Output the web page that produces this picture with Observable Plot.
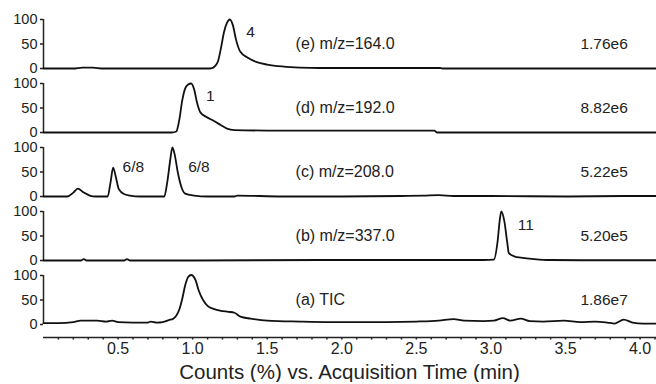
<!DOCTYPE html>
<html>
<head>
<meta charset="utf-8">
<script src="https://cdn.jsdelivr.net/npm/d3@7"></script>
<script src="https://cdn.jsdelivr.net/npm/@observablehq/plot@0.6"></script>
<style>
  body { margin: 0; background: #fff; }
  #title { font-family: "Liberation Sans", Arial, sans-serif; font-size: 20.5px; color: #222;
           padding-left: 43px; width: 613px; text-align: center; line-height: 20px; }
</style>
</head>
<body>
<div id="chart"></div>
<div id="title">Counts (%) vs. Acquisition Time (min)</div>
<script>
// ---- data ----
const panelKeys = ["e", "d", "c", "b", "a"];
const panelTitles = ["(e) m/z=164.0", "(d) m/z=192.0", "(c) m/z=208.0", "(b) m/z=337.0", "(a) TIC"];
const panelScales = ["1.76e6", "8.82e6", "5.22e5", "5.20e5", "1.86e7"];

const timeE = [0, 0.2, 0.26, 0.33, 0.4, 0.6, 0.85, 1.1, 1.13, 1.15, 1.17, 1.19, 1.21, 1.23, 1.25, 1.27, 1.29, 1.32, 1.37, 1.43, 1.50, 1.61, 1.72, 1.85, 2.1, 2.4, 2.66, 2.68, 3.0, 3.5, 4.11];
const valueE = [0, 0, 2, 2, 0, 0, 0, 0, 1, 5, 15, 42, 74, 93, 100, 88, 60, 34, 22, 13, 8, 4, 2, 1, 1, 1, 1, 0, 0, 0, 0];

const timeD = [0, 0.2, 0.4, 0.7, 0.86, 0.89, 0.91, 0.93, 0.95, 0.97, 0.99, 1.01, 1.03, 1.05, 1.09, 1.14, 1.19, 1.23, 1.28, 1.5, 2.0, 2.4, 2.62, 2.64, 3.0, 3.5, 4.11];
const valueD = [0, 0, 0, 0, 0, 2, 25, 65, 90, 98, 100, 88, 60, 42, 32, 24, 15, 8, 5, 4, 4, 4, 4, 0, 0, 0, 0];

const timeC = [0, 0.1, 0.16, 0.2, 0.23, 0.27, 0.31, 0.35, 0.43, 0.45, 0.467, 0.485, 0.505, 0.54, 0.58, 0.65, 0.81, 0.83, 0.85, 0.864, 0.88, 0.90, 0.924, 0.95, 1.01, 1.1, 1.28, 1.3, 1.6, 2.0, 2.4, 2.55, 2.65, 2.75, 3.0, 3.5, 3.9, 4.11];
const valueC = [0, 0, 0, 8, 16, 8, 2, 0, 0, 30, 59, 40, 15, 5, 2, 0, 0, 30, 75, 100, 85, 50, 20, 6, 2, 0, 0, 2, 0, 0, 1, 2, 3, 1, 1, 0, 1, 1];

const timeB = [0, 0.25, 0.27, 0.29, 0.54, 0.56, 0.58, 1.0, 1.85, 2.5, 2.95, 3.02, 3.045, 3.06, 3.07, 3.09, 3.11, 3.12, 3.16, 3.2, 3.29, 3.4, 3.7, 4.11];
const valueB = [0, 0, 3, 0, 0, 3, 0, 0, 1, 1, 1, 2, 40, 85, 100, 80, 35, 15, 8, 6, 3, 1, 0.5, 0.5];

const timeA = [0, 0.1, 0.2, 0.25, 0.3, 0.36, 0.42, 0.46, 0.5, 0.6, 0.7, 0.72, 0.76, 0.8, 0.84, 0.87, 0.89, 0.91, 0.93, 0.95, 0.97, 0.99, 1.02, 1.04, 1.07, 1.10, 1.14, 1.19, 1.24, 1.28, 1.32, 1.39, 1.50, 1.72, 1.93, 2.1, 2.3, 2.5, 2.65, 2.75, 2.82, 2.95, 3.02, 3.08, 3.13, 3.2, 3.26, 3.35, 3.49, 3.6, 3.7, 3.78, 3.83, 3.89, 3.95, 4.02, 4.11];
const valueA = [3, 3, 5, 8, 8, 8, 6, 8, 5, 4, 4, 6, 4, 5, 9, 12, 18, 30, 52, 80, 97, 101, 90, 70, 50, 38, 32, 28, 26, 24, 16, 12, 8, 6, 5, 5, 5, 6, 8, 11, 8, 7, 8, 13, 8, 12, 7, 6, 8, 5, 6, 4, 2, 10, 4, 2, 2];

const peakPanels = ["e", "d", "c", "c", "b"];
const peakTimes = [1.36, 1.09, 0.53, 0.97, 3.18];
const peakLevels = [75, 75, 61, 61, 73];
const peakTexts = ["4", "1", "6/8", "6/8", "11"];

const majorTicks = [0.5, 1.0, 1.5, 2.0, 2.5, 3.0, 3.5, 4.0];
const minorTicks = d3.range(1, 42).map(i => i / 10);
const yTicks = [0, 50, 100];

// ---- build table ----
const traces = {e: [timeE, valueE], d: [timeD, valueD], c: [timeC, valueC], b: [timeB, valueB], a: [timeA, valueA]};
const rows = [];
for (const k of panelKeys) {
  const [ts, vs] = traces[k];
  ts.forEach((t, i) => rows.push({panel: k, t, v: vs[i]}));
}
const panels = panelKeys.map((k, i) => ({panel: k, title: panelTitles[i], scale: panelScales[i]}));
const peaks = peakPanels.map((p, i) => ({panel: p, t: peakTimes[i], v: peakLevels[i], text: peakTexts[i]}));

const yMin = -26.5;
const titleTime = 1.69, scaleTime = 3.60, titleLevel = 50;

const chart = Plot.plot({
  width: 656, height: 362,
  marginLeft: 43, marginRight: 0, marginTop: 19, marginBottom: 25,
  x: {domain: [0, 4.11]},
  y: {domain: [yMin, 100]},
  fy: {domain: panelKeys, paddingInner: 2 / 64, paddingOuter: 0, axis: null},
  style: {fontFamily: "'Liberation Sans', Arial, sans-serif", color: "#222", background: "white", overflow: "visible"},
  marks: [
    Plot.axisY({ticks: yTicks, tickSize: 3, tickPadding: 3, fontSize: 14.5, label: null, stroke: "#222", strokeWidth: 1.5}),
    Plot.ruleX([0], {y1: 0, y2: 100, stroke: "#222", strokeWidth: 1.5}),
    Plot.ruleY([{panel: "a", y: yMin}], {y: "y", fy: "panel", stroke: "#222", strokeWidth: 1.5}),
    Plot.axisX({ticks: minorTicks, tickSize: 2.5, tickFormat: () => "", label: null, stroke: "#222", strokeWidth: 1.5}),
    Plot.axisX({ticks: majorTicks, tickSize: 0, tickPadding: 5, tickFormat: d3.format(".1f"), fontSize: 16, label: null}),
    Plot.line(rows, {x: "t", y: "v", fy: "panel", z: "panel", curve: "monotone-x", stroke: "#111", strokeWidth: 1.8}),
    Plot.text(panels, {x: () => titleTime, y: () => titleLevel, fy: "panel", text: "title", textAnchor: "start", fontSize: 16, fill: "#222"}),
    Plot.text(panels, {x: () => scaleTime, y: () => titleLevel, fy: "panel", text: "scale", textAnchor: "start", fontSize: 15.5, fill: "#222"}),
    Plot.text(peaks, {x: "t", y: "v", fy: "panel", text: "text", textAnchor: "start", fontSize: 15.5, fill: "#222"})
  ]
});
document.getElementById("chart").appendChild(chart);
</script>
</body>
</html>
